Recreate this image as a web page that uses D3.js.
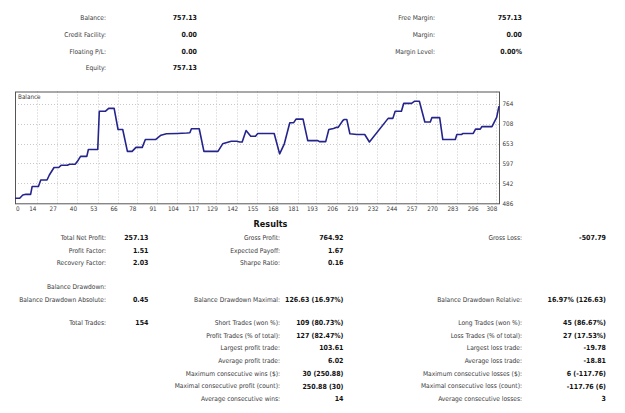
<!DOCTYPE html>
<html>
<head>
<meta charset="utf-8">
<script src="https://cdn.jsdelivr.net/npm/d3@7"></script>
<style>
  body { margin: 0; background: #fff; }
  svg { display: block; font-family: "DejaVu Sans Condensed", "DejaVu Sans", sans-serif; }
  .lbl { fill: #3a3a3a; font-size: 6.6px; }
  .val { fill: #111; font-size: 7px; font-weight: bold; }
  .tick { fill: #3a3a3a; font-size: 6.3px; }
</style>
</head>
<body>
<div id="report"></div>
<script>
// account summary
var topLeftLabels = ["Balance:", "Credit Facility:", "Floating P/L:", "Equity:"];
var topLeftValues = ["757.13", "0.00", "0.00", "757.13"];
var topRightLabels = ["Free Margin:", "Margin:", "Margin Level:"];
var topRightValues = ["757.13", "0.00", "0.00%"];

// balance curve: [deal number, balance]
var balance = [
  [0,500],[3,500],[5,509],[7,511],[10,511],[11,533],[15,533],[16.5,551],[20.5,551],
  [22,565],[25,586],[28,586],[29.5,592],[33.5,592],[35,595],[38.5,595],[40,603],
  [42,617],[46,617],[47,636],[53,636],[54,743],[58,743],[60,751],[63.5,751],
  [66,692],[69,692],[72,631],[75,631],[77.5,642],[81.5,642],[83.5,664],[90,664],
  [93.5,676],[97,680],[104,681],[110,682],[112,683],[113,694],[118,694],[121,631],
  [130,631],[133,652],[138.5,659],[142,659],[144,657],[145.5,657],[148,689],
  [151,673],[154,673],[155.5,681],[166,681],[169.5,624],[172.5,652],[176,711],
  [178.5,711],[180,721],[184.5,721],[187.5,661],[194,661],[195,658],[199,658],
  [201,692],[204,695],[206,698],[207,698],[210,717],[211,720],[212.5,720],
  [214.5,680],[219,678],[224,678],[227,657],[239,723],[242,723],[243.5,743],
  [247.5,743],[249,765],[254,765],[256,771],[259,771],[262.5,713],[266,713],
  [267,725],[272,725],[274,664],[282,664],[283,678],[286,678],[287,681],
  [293.5,681],[295,693],[298,693],[299,700],[305.5,700],[308.5,726],[310,757]
];
var xTicks = [0,14,27,40,53,66,78,91,104,117,129,142,155,168,181,193,206,219,232,244,257,270,283,296,308];
var yTicks = [486, 541.6, 597.2, 652.8, 708.4, 764];
var yTickLabels = ["486", "542", "597", "653", "708", "764"];

// results table, one array per column: [row, label, value]
var resultsCol1 = [
  [0, "Total Net Profit:", "257.13"],
  [1, "Profit Factor:", "1.51"],
  [2, "Recovery Factor:", "2.03"],
  [3, "Balance Drawdown:", ""],
  [4, "Balance Drawdown Absolute:", "0.45"],
  [5, "Total Trades:", "154"]
];
var resultsCol2 = [
  [0, "Gross Profit:", "764.92"],
  [1, "Expected Payoff:", "1.67"],
  [2, "Sharpe Ratio:", "0.16"],
  [4, "Balance Drawdown Maximal:", "126.63 (16.97%)"],
  [5, "Short Trades (won %):", "109 (80.73%)"],
  [6, "Profit Trades (% of total):", "127 (82.47%)"],
  [7, "Largest profit trade:", "103.61"],
  [8, "Average profit trade:", "6.02"],
  [9, "Maximum consecutive wins ($):", "30 (250.88)"],
  [10, "Maximal consecutive profit (count):", "250.88 (30)"],
  [11, "Average consecutive wins:", "14"]
];
var resultsCol3 = [
  [0, "Gross Loss:", "-507.79"],
  [4, "Balance Drawdown Relative:", "16.97% (126.63)"],
  [5, "Long Trades (won %):", "45 (86.67%)"],
  [6, "Loss Trades (% of total):", "27 (17.53%)"],
  [7, "Largest loss trade:", "-19.78"],
  [8, "Average loss trade:", "-18.81"],
  [9, "Maximum consecutive losses ($):", "6 (-117.76)"],
  [10, "Maximal consecutive loss (count):", "-117.76 (6)"],
  [11, "Average consecutive losses:", "3"]
];

var width = 625, height = 413;
var svg = d3.select("#report").append("svg")
  .attr("width", width)
  .attr("height", height);

// label/value pairs, labels right aligned at lx, values right aligned at vx
function pairs(labels, values, lx, vx, ys) {
  var g = svg.append("g");
  labels.forEach(function(l, i) {
    g.append("text").attr("class", "lbl").attr("x", lx).attr("y", ys[i])
      .attr("text-anchor", "end").attr("dy", "0.35em").text(l);
    if (values[i] !== "") {
      g.append("text").attr("class", "val").attr("x", vx).attr("y", ys[i])
        .attr("text-anchor", "end").attr("dy", "0.35em").text(values[i]);
    }
  });
}

var topRows = [17.3, 34.3, 51.3, 68];
pairs(topLeftLabels, topLeftValues, 106, 197, topRows);
pairs(topRightLabels, topRightValues, 435, 522, topRows);

////////////////* BALANCE CHART *////////////////////
var x = d3.scaleLinear().domain([0, 310]).range([15, 499]);
var y = d3.scaleLinear().domain([486, 798]).range([203.3, 91.5]);

var chart = svg.append("g");

chart.selectAll(".hgrid")
  .data(yTicks.slice(1))
  .enter()
  .append("line")
    .attr("x1", x(0)).attr("x2", x(310))
    .attr("y1", function(d) { return Math.round(y(d)) + 0.5; })
    .attr("y2", function(d) { return Math.round(y(d)) + 0.5; })
    .style("stroke", "#c8c8c8")
    .style("stroke-dasharray", "1,2");

chart.selectAll(".vgrid")
  .data(xTicks.slice(1))
  .enter()
  .append("line")
    .attr("x1", function(d) { return Math.round(x(d)) + 0.5; })
    .attr("x2", function(d) { return Math.round(x(d)) + 0.5; })
    .attr("y1", y(798)).attr("y2", y(486))
    .style("stroke", "#c8c8c8")
    .style("stroke-dasharray", "1,2");

chart.append("rect")
  .attr("x", x(0) + 0.5).attr("y", y(798) + 0.5)
  .attr("width", x(310) - x(0)).attr("height", y(486) - y(798))
  .style("fill", "none")
  .style("stroke", "#555")
  .style("stroke-width", 1);

chart.append("text")
  .attr("class", "tick")
  .attr("x", x(0) + 3).attr("y", y(798) + 5.5)
  .attr("dy", "0.35em")
  .text("Balance");

var line = d3.line()
  .x(function(d) { return x(d[0]); })
  .y(function(d) { return y(d[1]); });

chart.append("path")
  .datum(balance)
  .attr("d", line)
  .style("fill", "none")
  .style("stroke", "#24248c")
  .style("stroke-width", 1.6)
  .style("stroke-linejoin", "round");

chart.selectAll(".xlab")
  .data(xTicks)
  .enter()
  .append("text")
    .attr("class", "tick")
    .attr("x", function(d, i) { return i == 0 ? x(d) + 1 : x(d) - 4; })
    .attr("y", 208.5)
    .attr("dy", "0.35em")
    .attr("text-anchor", function(d, i) { return i == 0 ? "start" : "middle"; })
    .text(function(d) { return d; });

chart.selectAll(".ylab")
  .data(yTicks)
  .enter()
  .append("text")
    .attr("class", "tick")
    .attr("x", 502.5)
    .attr("y", function(d) { return y(d); })
    .attr("dy", "0.35em")
    .text(function(d, i) { return yTickLabels[i]; });

////////////////* RESULTS *////////////////////
svg.append("text")
  .attr("x", 270.5).attr("y", 224)
  .attr("dy", "0.35em")
  .attr("text-anchor", "middle")
  .style("font-size", "9px")
  .style("font-weight", "bold")
  .style("fill", "#111")
  .text("Results");

var rowY = [237.5, 250.2, 262.8, 286.5, 299.2, 322.6, 335.3, 348, 360.7, 373.4, 386.1, 398.8];

function column(rows, lx, vx) {
  pairs(rows.map(function(r) { return r[1]; }),
        rows.map(function(r) { return r[2]; }),
        lx, vx,
        rows.map(function(r) { return rowY[r[0]]; }));
}
column(resultsCol1, 106, 148.5);
column(resultsCol2, 280, 343.5);
column(resultsCol3, 522, 606);
</script>
</body>
</html>
